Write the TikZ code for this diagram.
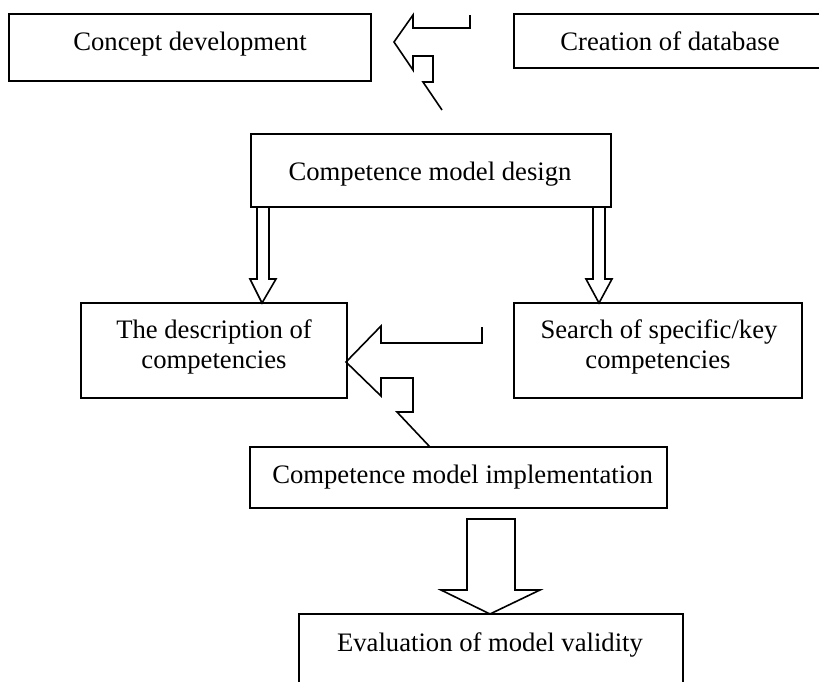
\documentclass[tikz,border=0pt]{standalone}
\usepackage{fontspec}
\setmainfont{Liberation Serif}
\usetikzlibrary{fit}
\begin{document}
\begin{tikzpicture}[x=0.75pt,y=-0.75pt,
  box/.style={draw, line width=1.5pt, inner sep=0pt},
  txt/.style={anchor=base, inner sep=0pt, font=\fontsize{20}{22.5}\selectfont},
  mtxt/.style={anchor=base, inner sep=0pt, align=center, font=\fontsize{20}{22.5}\selectfont},
  blockarrow/.style={draw, line width=1.2pt, line join=miter}]
\useasboundingbox (0,0) rectangle (819,682);
\clip (0,0) rectangle (819,682);
% boxes
\node[box, fit={(9,14) (371,81)}] (cd) {};
\node[box, fit={(514,14) (830,68)}] (db) {};
\node[box, fit={(251,134) (611,207)}] (design) {};
\node[box, fit={(81,303) (347,398)}] (desc) {};
\node[box, fit={(514,303) (802,398)}] (search) {};
\node[box, fit={(250,447) (667,508)}] (impl) {};
\node[box, fit={(299,614) (683,700)}] (eval) {};
% texts
\node[txt] (cdt) at (190,50) {Concept development};
\node[txt] (dbt) at (670,50) {Creation of database};
\node[txt] (designt) at (430,180) {Competence model design};
\node[txt] (desct1) at (214,338) {The description of};
\node[txt] (desct2) at (214,368) {competencies};
\node[txt] (searcht1) at (659,338) {Search of specific/key};
\node[txt] (searcht2) at (658,368) {competencies};
\node[txt, anchor=base west] (implt) at (272,483) {Competence model implementation};
\node[txt] (evalt) at (490,651) {Evaluation of model validity};
% top broken left arrow
\draw[blockarrow] (470,15) -- (470,28) -- (413,28) -- (413,15) -- (394,42) -- (413,70) -- (413,56) -- (433,56) -- (433,82) -- (423,82) -- (442,110);
% middle broken left arrow
\draw[blockarrow] (482,327) -- (482,343) -- (381,343) -- (381,326) -- (346,362) -- (381,396) -- (381,378) -- (413,378) -- (413,412) -- (397,412) -- (430,447);
% small down arrows
\draw[blockarrow] (257,207) -- (257,279) -- (250,279) -- (262,303) -- (276,279) -- (269,279) -- (269,207);
\draw[blockarrow] (593,207) -- (593,279) -- (586,279) -- (599,303) -- (612,279) -- (605,279) -- (605,207);
% big down arrow
\draw[blockarrow] (441,590) -- (467,590) -- (467,519) -- (515,519) -- (515,590) -- (540,590) -- (490,614) -- cycle;
\end{tikzpicture}
\end{document}
